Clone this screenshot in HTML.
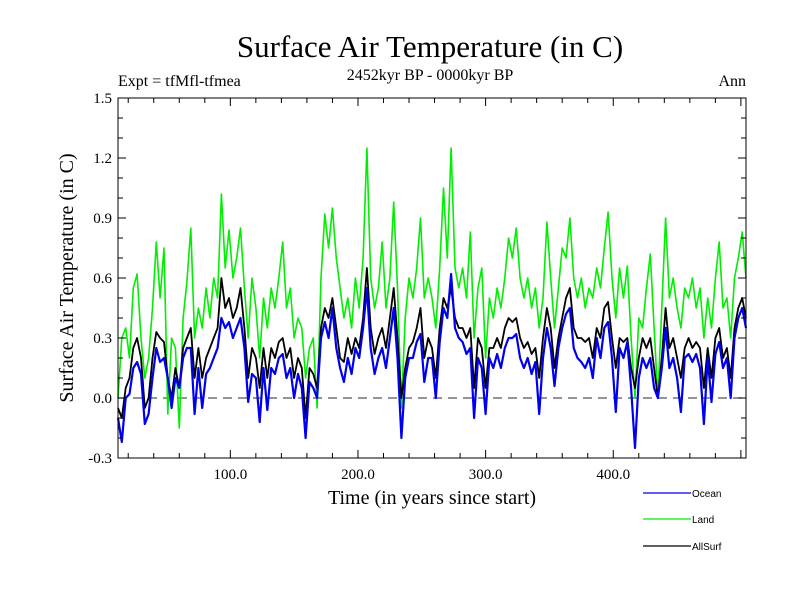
<!DOCTYPE html>
<html><head><meta charset="utf-8"><style>
html,body{margin:0;padding:0;background:#fff;}
svg{display:block;}
</style></head><body>
<svg id="chart" width="800" height="600" viewBox="0 0 800 600" xmlns="http://www.w3.org/2000/svg">
<text x="430" y="57" font-family="Liberation Serif, serif" font-size="31" text-anchor="middle">Surface Air Temperature (in C)</text>
<text x="430" y="80" font-family="Liberation Serif, serif" font-size="16" text-anchor="middle">2452kyr BP - 0000kyr BP</text>
<text x="118" y="86" font-family="Liberation Serif, serif" font-size="16">Expt = tfMfl-tfmea</text>
<text x="746" y="86" font-family="Liberation Serif, serif" font-size="16" text-anchor="end">Ann</text>
<text transform="translate(73,278) rotate(-90)" font-family="Liberation Serif, serif" font-size="20" text-anchor="middle">Surface Air Temperature (in C)</text>
<text x="432" y="504" font-family="Liberation Serif, serif" font-size="20" text-anchor="middle">Time (in years since start)</text>
<g id="plot"></g>
<g id="axes"></g>
<g id="legend"></g>
</svg>
<script>
const years0 = 12, yearStep = 3;
const landSeries = [0.0,0.3,0.35,0.2,0.55,0.62,0.3,0.1,0.2,0.45,
0.78,0.5,0.75,-0.08,0.3,0.25,-0.15,0.4,0.58,0.85,
0.3,0.45,0.35,0.55,0.4,0.6,0.5,1.02,0.65,0.84,
0.6,0.7,0.85,0.55,0.3,0.6,0.45,0.2,0.5,0.35,
0.55,0.45,0.6,0.78,0.45,0.55,0.3,0.4,0.35,0.1,
0.25,0.3,-0.05,0.6,0.92,0.75,0.95,0.7,0.55,0.4,
0.5,0.35,0.6,0.45,0.7,1.25,0.6,0.45,0.55,0.78,
0.45,0.6,0.98,0.55,-0.05,0.4,0.6,0.5,0.65,0.9,
0.5,0.6,0.5,0.35,0.65,1.05,0.7,1.25,0.65,0.55,
0.65,0.5,0.83,0.3,0.55,0.65,0.2,0.5,0.4,0.55,
0.45,0.6,0.8,0.7,0.85,0.6,0.5,0.6,0.45,0.55,
0.35,0.5,0.88,0.6,0.35,0.55,0.75,0.7,0.9,0.6,
0.5,0.6,0.45,0.55,0.5,0.65,0.55,0.75,0.93,0.6,
0.4,0.65,0.5,0.66,0.3,0.0,0.4,0.35,0.55,0.72,
0.35,0.0,0.45,0.9,0.5,0.6,0.45,0.35,0.55,0.5,
0.6,0.45,0.55,0.3,0.5,0.35,0.6,0.78,0.45,0.5,
0.3,0.6,0.7,0.83,0.6];
const allSurfSeries = [-0.05,-0.1,0.05,0.1,0.25,0.3,0.2,-0.05,0.0,0.2,
0.33,0.3,0.28,0.1,0.0,0.15,0.05,0.25,0.3,0.35,
0.1,0.25,0.1,0.2,0.25,0.3,0.35,0.6,0.45,0.5,
0.4,0.45,0.55,0.35,0.1,0.25,0.2,0.05,0.25,0.1,
0.25,0.2,0.28,0.3,0.2,0.25,0.1,0.2,0.15,-0.1,
0.15,0.12,0.05,0.35,0.45,0.4,0.5,0.35,0.2,0.18,
0.3,0.22,0.3,0.25,0.4,0.65,0.35,0.22,0.3,0.35,
0.25,0.4,0.55,0.3,0.0,0.15,0.25,0.28,0.35,0.45,
0.2,0.3,0.25,0.1,0.35,0.5,0.45,0.55,0.4,0.35,
0.35,0.3,0.35,0.05,0.3,0.25,0.05,0.25,0.25,0.3,
0.25,0.35,0.4,0.38,0.4,0.3,0.25,0.28,0.22,0.25,
0.1,0.3,0.45,0.35,0.15,0.3,0.4,0.5,0.55,0.35,
0.3,0.3,0.28,0.3,0.2,0.35,0.3,0.45,0.48,0.3,
0.15,0.3,0.28,0.3,0.15,0.05,0.2,0.3,0.25,0.3,
0.15,0.0,0.2,0.45,0.25,0.3,0.2,0.1,0.25,0.3,
0.25,0.28,0.25,0.05,0.25,0.1,0.3,0.35,0.2,0.25,
0.1,0.35,0.45,0.5,0.4];
const oceanSeries = [-0.1,-0.22,0.0,0.02,0.15,0.18,0.12,-0.13,-0.08,0.1,
0.25,0.18,0.2,0.1,-0.05,0.1,0.05,0.2,0.25,0.25,
-0.08,0.15,-0.05,0.12,0.15,0.2,0.25,0.4,0.35,0.38,
0.3,0.35,0.4,0.25,-0.02,0.12,0.1,-0.12,0.15,-0.06,
0.15,0.12,0.2,0.22,0.1,0.15,0.0,0.12,0.05,-0.2,
0.08,0.05,0.0,0.3,0.38,0.3,0.45,0.25,0.15,0.08,
0.2,0.12,0.25,0.2,0.35,0.55,0.25,0.12,0.2,0.25,
0.15,0.3,0.45,0.2,-0.2,0.1,0.2,0.2,0.28,0.32,
0.08,0.2,0.2,0.0,0.28,0.45,0.4,0.62,0.35,0.3,
0.28,0.22,0.25,-0.1,0.2,0.15,-0.08,0.2,0.15,0.22,
0.15,0.25,0.3,0.3,0.32,0.2,0.15,0.2,0.12,0.18,
-0.08,0.2,0.35,0.25,0.06,0.25,0.35,0.42,0.45,0.25,
0.2,0.18,0.15,0.2,0.1,0.3,0.2,0.35,0.38,0.2,
-0.07,0.25,0.2,0.28,0.05,-0.25,0.1,0.2,0.15,0.2,
0.05,0.0,0.15,0.35,0.15,0.2,0.1,-0.07,0.2,0.22,
0.18,0.22,0.15,-0.13,0.2,-0.02,0.22,0.28,0.15,0.2,
0.0,0.3,0.4,0.45,0.35];
const yTickLabels = ["-0.3","0.0","0.3","0.6","0.9","1.2","1.5"];
const xTickLabels = ["100.0","200.0","300.0","400.0"];

const NS = "http://www.w3.org/2000/svg";
const L = 118, R = 746, T = 98, B = 458;
const xMin = 12, xMax = 504, yMin = -0.3, yMax = 1.5;
function xs(v){ return L + (v - xMin) / (xMax - xMin) * (R - L); }
function ys(v){ return B - (v - yMin) / (yMax - yMin) * (B - T); }
function mk(tag, attrs, parent){
  const e = document.createElementNS(NS, tag);
  for (const k in attrs) e.setAttribute(k, attrs[k]);
  parent.appendChild(e); return e;
}
const plot = document.getElementById('plot');
const axes = document.getElementById('axes');
const legend = document.getElementById('legend');

const zl = mk('line', {x1:L, x2:R, y1:ys(0), y2:ys(0), stroke:'#555', 'stroke-width':1.2, 'stroke-dasharray':'9,6'}, plot);



function drawSeries(arr, color, width, name){
  const pts = arr.map((v,i)=> xs(years0 + i*yearStep).toFixed(1) + ',' + ys(v).toFixed(1)).join(' ');
  const p = mk('polyline', {points:pts, fill:'none', stroke:color, 'stroke-width':width, 'stroke-linejoin':'round'}, plot);
  
  
}
drawSeries(landSeries, '#00ee00', 1.6, 'land-series-line');
drawSeries(allSurfSeries, '#000000', 1.8, 'allsurf-series-line');
drawSeries(oceanSeries, '#0000ee', 2.2, 'ocean-series-line');

const frame = mk('rect', {x:L, y:T, width:R-L, height:B-T, fill:'none', stroke:'#000', 'stroke-width':1}, axes);



for (let k = 0; k <= 18; k++){
  const v = yMin + k*0.1, y = ys(v), major = (k % 3 === 0), len = major ? 8 : 5;
  mk('line', {x1:L, x2:L+len, y1:y, y2:y, stroke:'#000', 'stroke-width':1}, axes);
  mk('line', {x1:R, x2:R-len, y1:y, y2:y, stroke:'#000', 'stroke-width':1}, axes);
}
yTickLabels.forEach((lab)=>{
  const t = mk('text', {x:L-6, y:ys(parseFloat(lab))+5, 'font-family':'Liberation Serif, serif', 'font-size':15, 'text-anchor':'end'}, axes);
  t.textContent = lab;
  
  
});
for (let v = 20; v <= xMax; v += 20){
  const x = xs(v), major = (v % 100 === 0), len = major ? 8 : 5;
  mk('line', {x1:x, x2:x, y1:B, y2:B-len, stroke:'#000', 'stroke-width':1}, axes);
  mk('line', {x1:x, x2:x, y1:T, y2:T+len, stroke:'#000', 'stroke-width':1}, axes);
}
xTickLabels.forEach((lab)=>{
  const t = mk('text', {x:xs(parseFloat(lab)), y:B+21, 'font-family':'Liberation Serif, serif', 'font-size':15, 'text-anchor':'middle'}, axes);
  t.textContent = lab;
  
  
});

const legendItems = [['Ocean','#0000ee',493],['Land','#00ee00',519],['AllSurf','#000000',546]];
legendItems.forEach(([lab,col,y])=>{
  const g = mk('g', {}, legend);
  
  
  mk('line', {x1:643, x2:691, y1:y, y2:y, stroke:col, 'stroke-width':1.2}, g);
  const t = mk('text', {x:692, y:y+4, 'font-family':'Liberation Sans, sans-serif', 'font-size':10}, g);
  t.textContent = lab;
});
</script>
</body></html>
